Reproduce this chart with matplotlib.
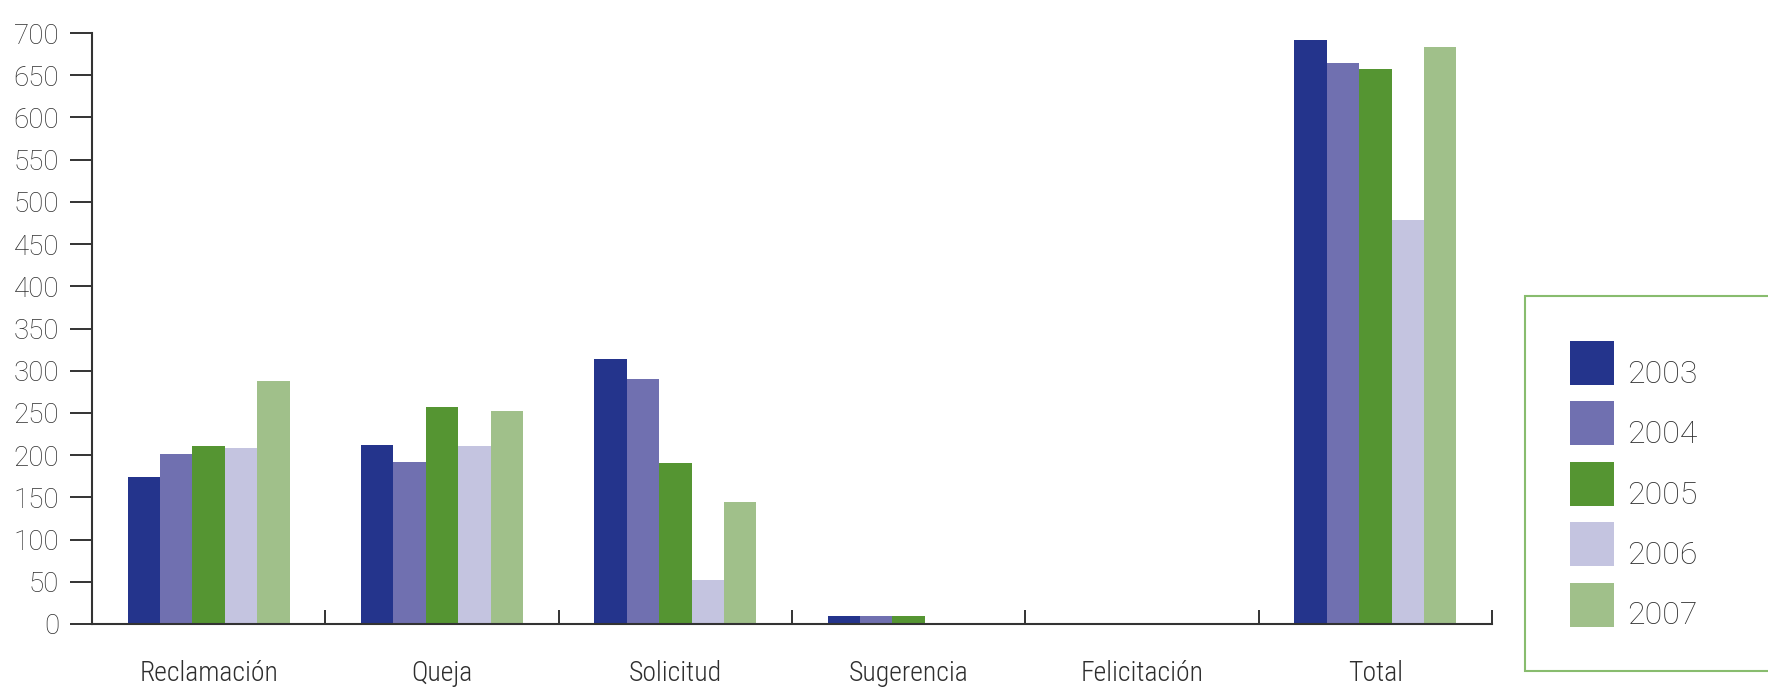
import numpy as np
import matplotlib
matplotlib.use("Agg")
import matplotlib.pyplot as plt
from matplotlib.transforms import Affine2D

# Number of cases per category and year
categories = ["Reclamación", "Queja", "Solicitud", "Sugerencia", "Felicitación", "Total"]
years = ["2003", "2004", "2005", "2006", "2007"]
values_2003 = [174, 212, 314, 9, 0, 692]
values_2004 = [201, 192, 290, 9, 0, 665]
values_2005 = [211, 257, 191, 9, 0, 657]
values_2006 = [209, 211, 52, 0, 0, 478]
values_2007 = [288, 252, 144, 0, 0, 683]
series = [values_2003, values_2004, values_2005, values_2006, values_2007]
colors = ["#24348c", "#7070b0", "#559532", "#c4c4e0", "#a0c08a"]
y_ticks = list(range(0, 701, 50))

W, H, DPI = 1768, 687, 100
fig = plt.figure(figsize=(W / DPI, H / DPI), dpi=DPI)
ax = fig.add_axes([92 / W, 63 / H, 1400 / W, 591 / H])

axis_color = "#333333"
text_color = "#2e2e2e"
narrow = ["Liberation Sans Narrow", "Roboto Condensed", "Open Sans Condensed", "Roboto", "DejaVu Sans"]
label_font = dict(family=narrow, weight="light", size=20, color=text_color)
num_font = dict(family=["Roboto", "DejaVu Sans"], weight="light", size=20, color=text_color)

centers = np.arange(len(categories)) + 0.5
bar_w = 0.139
handles = []
for i, (vals, col) in enumerate(zip(series, colors)):
    offs = (i - 2) * bar_w
    b = ax.bar(centers + offs, vals, width=bar_w, color=col, linewidth=0, label=years[i])
    handles.append(b)

ax.set_xlim(0, len(categories))
ax.set_ylim(0, 700)

for s in ["top", "right"]:
    ax.spines[s].set_visible(False)
for s in ["left", "bottom"]:
    ax.spines[s].set_color(axis_color)
    ax.spines[s].set_linewidth(1.5)

ax.set_yticks(y_ticks)
ax.set_yticklabels([str(v) for v in y_ticks], fontdict=num_font)
ax.tick_params(axis="y", direction="out", length=16, width=1.4, color=axis_color, pad=7.5)

# group separators on the x axis, category names centred between them
ax.set_xticks(np.arange(1, len(categories) + 1))
ax.set_xticklabels([])
ax.tick_params(axis="x", which="major", direction="in", length=10, width=1.4, color=axis_color)
ax.set_xticks(centers, minor=True)
ax.set_xticklabels(categories, minor=True, fontdict=label_font)
ax.tick_params(axis="x", which="minor", length=0, pad=26)

fs = 22
leg = fig.legend(handles=handles, labels=years, loc="upper left",
                 bbox_to_anchor=(1525 / W, 1 - 296 / H, 400 / W, 0), mode="expand",
                 borderaxespad=0, frameon=True, fancybox=False,
                 prop=dict(family=["Roboto", "DejaVu Sans"], weight="light", size=fs),
                 handlelength=1.44, handleheight=1.835, labelspacing=0.54,
                 handletextpad=0.42, borderpad=1.47)
leg.get_frame().set_edgecolor("#6aab4a")
leg.get_frame().set_linewidth(1.5)
for t in leg.get_texts():
    t.set_color(text_color)
    t.set_fontsize(23)
    # sit the year labels near the bottom edge of their swatches
    t.set_transform(t.get_transform() + Affine2D().translate(0, -10))

fig.savefig("out.png", dpi=DPI)
